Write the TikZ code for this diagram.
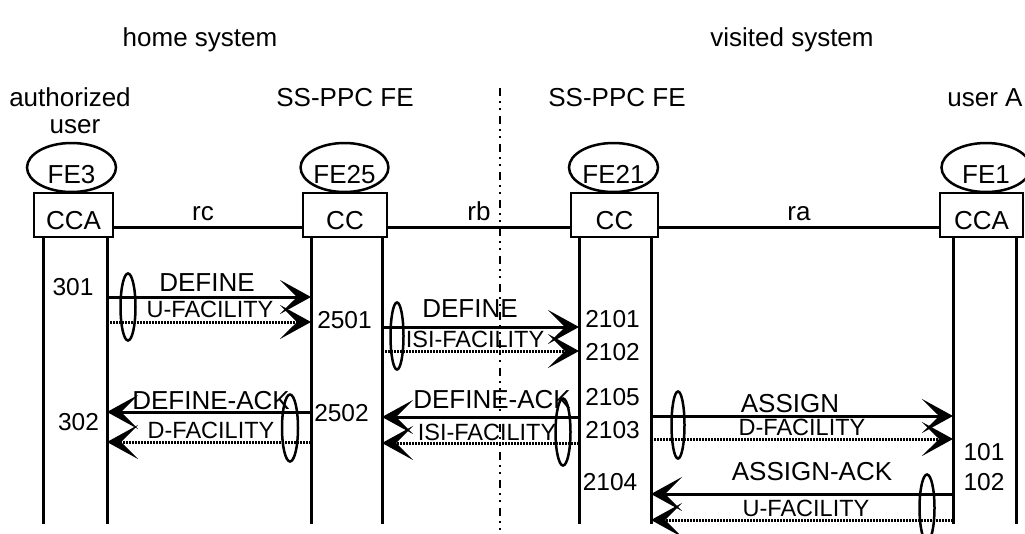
\documentclass[tikz,border=0pt]{standalone}
\usepackage{fontspec}
\setmainfont{Liberation Sans}
\usetikzlibrary{arrows.meta, shapes.geometric}

\begin{document}
\begin{tikzpicture}[x = 1pt, y = -1pt]
\tikzstyle{Txt}=[font = \fontsize{26}{30}\selectfont,
                 inner sep = 0pt,
                 text height = 18pt, text depth = 0pt]
\tikzstyle{Fac}=[Txt, font = \fontsize{23.5}{28}\selectfont]
\tikzstyle{Num}=[Txt, font = \fontsize{24.5}{28}\selectfont]
\tikzstyle{FBox}=[Txt, draw, line width = 2pt, minimum height = 44pt, text height = 28pt]
\tikzstyle{FEllipse}=[Txt, ellipse, draw, line width = 2.5pt, minimum height = 49pt, text height = 32pt]
\tikzstyle{Life}=[line width = 3pt]
\tikzstyle{Link}=[line width = 3pt]
\tikzstyle{Msg}=[line width = 3pt, -{Stealth[length = 31pt, width = 34pt, inset = 17pt]}]
\tikzstyle{DMsg}=[Msg, dash pattern = on 2pt off 1pt]
\tikzstyle{Grp}=[ellipse, draw, line width = 2.5pt, minimum width = 15pt, minimum height = 67pt, inner sep = 0pt]
\useasboundingbox (0,0) rectangle (1025,533);
\node[Txt] (home) at (200,37) {home system};
\node[Txt] (visited) at (792,37) {visited system};
\node[Txt] (auth) at (70,97) {authorized};
\node[Txt] (user) at (75,124) {user};
\node[Txt] (ssh) at (345,97) {SS-PPC FE};
\node[Txt] (ssv) at (617,97) {SS-PPC FE};
\node[Txt] (usera) at (985,97) {user A};
\node[FEllipse, minimum width = 89pt] (fe3) at (71.5,167.5) {FE3};
\node[FEllipse, minimum width = 85pt] (fe25) at (344.5,167.5) {FE25};
\node[FEllipse, minimum width = 89pt] (fe21) at (613.5,167.5) {FE21};
\node[FEllipse, minimum width = 89pt] (fe1) at (986,167.5) {FE1};
\node[FBox, minimum width = 79pt] (cca3) at (73.5,215) {CCA};
\node[FBox, minimum width = 84pt] (cc25) at (345,215) {CC};
\node[FBox, minimum width = 87pt] (cc21) at (614.5,215) {CC};
\node[FBox, minimum width = 83pt] (cca1) at (981.5,215) {CCA};
\draw[Link] ([yshift = -12pt]cca3.east) -- node[Txt, above = 5pt, xshift = -5pt] (rc) {rc} ([yshift = -12pt]cc25.west);
\draw[Link] ([yshift = -12pt]cc25.east) -- node[Txt, above = 5pt] (rb) {rb} ([yshift = -12pt]cc21.west);
\draw[Link] ([yshift = -12pt]cc21.east) -- node[Txt, above = 5pt] (ra) {ra} ([yshift = -12pt]cca1.west);
\draw[line width = 2.5pt, dash pattern = on 8pt off 5pt on 2pt off 5pt on 2pt off 6pt] (500,88) -- (500,533);
\coordinate (l3a) at (43,237);
\coordinate (l3b) at (107,237);
\coordinate (l25a) at (311,237);
\coordinate (l25b) at (382,237);
\coordinate (l21a) at (579,237);
\coordinate (l21b) at (651,237);
\coordinate (l1a) at (953,237);
\coordinate (l1b) at (1016,237);
\foreach \l in {l3a, l3b, l25a, l25b, l21a, l21b, l1a, l1b}
  \draw[Life] (\l) -- (\l |- 0,524);
\draw[Msg] (l3b |- 0,297) -- (l25a |- 0,297);
\draw[DMsg] (l3b |- 0,322) -- (l25a |- 0,322);
\draw[Msg] (l25b |- 0,327) -- (l21a |- 0,327);
\draw[DMsg] (l25b |- 0,351) -- (l21a |- 0,351);
\draw[Msg] (l21a |- 0,417) -- (l25b |- 0,417);
\draw[DMsg] (l21a |- 0,443) -- (l25b |- 0,443);
\draw[Msg] (l25a |- 0,412) -- (l3b |- 0,412);
\draw[DMsg] (l25a |- 0,442) -- (l3b |- 0,442);
\draw[Msg] (l21b |- 0,416) -- (l1a |- 0,416);
\draw[DMsg] (l21b |- 0,439) -- (l1a |- 0,439);
\draw[Msg] (l1a |- 0,494) -- (l21b |- 0,494);
\draw[DMsg] (l1a |- 0,520) -- (l21b |- 0,520);
\node[Grp] (g301) at (128,307) {};
\node[Grp, minimum width = 13pt] (g2501) at (397,336) {};
\node[Grp] (g2105) at (563,432) {};
\node[Grp, minimum width = 16pt] (g2502) at (290,428) {};
\node[Grp, minimum width = 13pt] (g2103) at (678,425) {};
\node[Grp] (g102) at (927,508) {};
\node[Txt] (define1) at (207,282) {DEFINE};
\node[Fac] (ufac1) at (210,308.5) {U-FACILITY};
\node[Txt] (define2) at (470,308.5) {DEFINE};
\node[Fac] (isifac1) at (475,338.5) {ISI-FACILITY};
\node[Txt] (defack2) at (492,399) {DEFINE-ACK};
\node[Fac] (isifac2) at (487,431.5) {ISI-FACILITY};
\node[Txt] (defack1) at (211,400) {DEFINE-ACK};
\node[Fac] (dfac1) at (211,429.5) {D-FACILITY};
\node[Txt] (assign) at (790,403.5) {ASSIGN};
\node[Fac] (dfac2) at (802,426) {D-FACILITY};
\node[Txt] (assack) at (812,471) {ASSIGN-ACK};
\node[Fac] (ufac2) at (806,507.5) {U-FACILITY};
\node[Num] (n301) at (73,286) {301};
\node[Num] (n302) at (78.5,421) {302};
\node[Num] (n2501) at (344.5,319) {2501};
\node[Num] (n2502) at (341.5,412) {2502};
\node[Num] (n2101) at (612.5,318.5) {2101};
\node[Num] (n2102) at (612.5,351) {2102};
\node[Num] (n2105) at (612.5,396) {2105};
\node[Num] (n2103) at (612.5,429) {2103};
\node[Num] (n2104) at (610,481) {2104};
\node[Num] (n101) at (984,451.5) {101};
\node[Num] (n102) at (984,481) {102};
\end{tikzpicture}
\end{document}
